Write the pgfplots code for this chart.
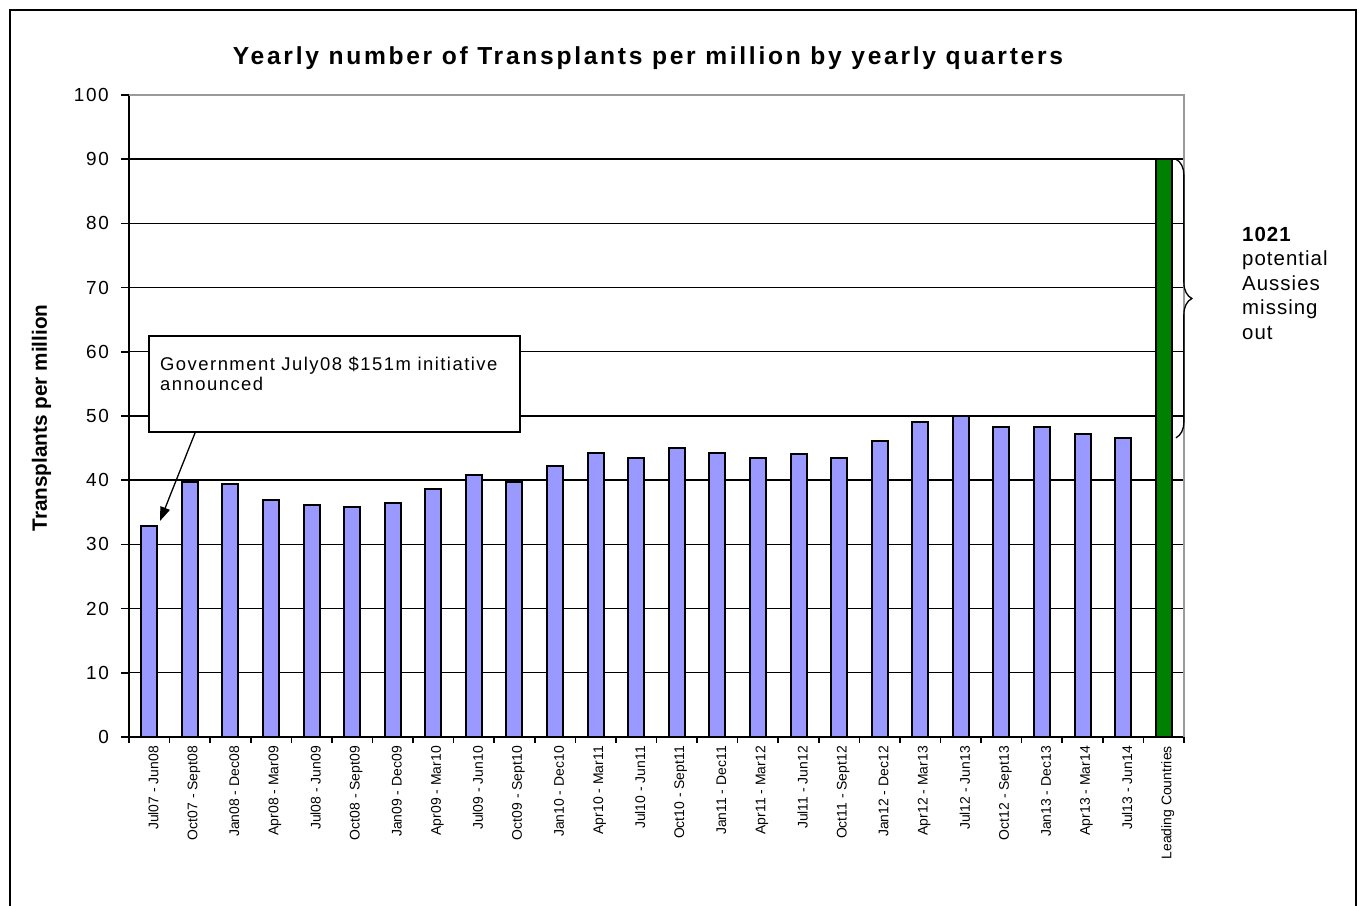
\documentclass[border=0pt]{standalone}
\usepackage{fontspec}
\setmainfont{Liberation Sans}
\newfontfamily\spacedT[LetterSpace=11]{Liberation Sans}
\newfontfamily\spacedY[LetterSpace=9]{Liberation Sans}
\newfontfamily\spacedG[LetterSpace=8]{Liberation Sans}
\newfontfamily\spacedR[LetterSpace=5]{Liberation Sans}
\usepackage{pgfplots}
\pgfplotsset{compat=1.18}
\usepackage{pgfplotstable}
\usetikzlibrary{arrows.meta,decorations.pathreplacing}
\definecolor{barblue}{HTML}{9999FF}
\definecolor{bargreen}{HTML}{008000}
\definecolor{frameg}{HTML}{9A9A9A}

\pgfplotstableread{
x y
0 32.9
1 39.7
2 39.4
3 36.9
4 36.1
5 35.8
6 36.4
7 38.6
8 40.8
9 39.7
10 42.2
11 44.3
12 43.5
13 45.0
14 44.3
15 43.5
16 44.1
17 43.5
18 46.1
19 49.0
20 50.0
21 48.3
22 48.3
23 47.2
24 46.5
}\quarters

\pgfplotstableread{
x y
25 90
}\leading

\begin{document}
\begin{tikzpicture}
\useasboundingbox (0bp,0bp) rectangle (1359bp,906bp);
\draw[line width=2.2bp] (10bp,0bp) -- (10bp,896bp) -- (1356bp,896bp) -- (1356bp,0bp);
\begin{axis}[
  at={(129bp,169bp)}, anchor=south west,
  scale only axis, width=1055bp, height=642bp,
  xmin=-0.5, xmax=25.5, ymin=0, ymax=100,
  axis x line*=bottom, axis y line*=left,
  axis line style={line width=2bp, -},
  ytick={0,10,...,100},
  ymajorgrids, major grid style={black, line width=1.4bp},
  xtick={0,...,25},
  xticklabels={Jul07 - Jun08, Oct07 - Sept08, Jan08 - Dec08, Apr08 - Mar09, Jul08 - Jun09, Oct08 - Sept09, Jan09 - Dec09, Apr09 - Mar10, Jul09 - Jun10, Oct09 - Sept10, Jan10 - Dec10, Apr10 - Mar11, Jul10 - Jun11, Oct10 - Sept11, Jan11 - Dec11, Apr11 - Mar12, Jul11 - Jun12, Oct11 - Sept12, Jan12 - Dec12, Apr12 - Mar13, Jul12 - Jun13, Oct12 - Sept13, Jan13 - Dec13, Apr13 - Mar14, Jul13 - Jun14, Leading Countries},
  minor xtick={-0.5,0.5,...,25.5},
  tick align=outside,
  major tick length=8bp, minor tick length=6bp,
  major x tick style={draw=none},
  every tick/.style={black, line width=1.6bp},
  x tick label style={xshift=4bp, rotate=90, anchor=east, font=\fontsize{14}{14}\selectfont, inner sep=1bp},
  y tick label style={xshift=-11bp, font=\spacedY\fontsize{19}{19}\selectfont, inner sep=1bp},
  /pgf/number format/assume math mode=true,
  clip=false,
]
\addplot[ybar, bar width=16bp, bar shift=0pt, fill=barblue, draw=black, line width=2bp] table[x=x,y=y]{\quarters};
\addplot[ybar, bar width=16bp, bar shift=0pt, fill=bargreen, draw=black, line width=2bp] table[x=x,y=y]{\leading};
\draw[frameg, line width=2bp] (rel axis cs:0,1) -- (rel axis cs:1,1) -- (rel axis cs:1,0);
\draw[decorate, decoration={brace, amplitude=16bp}, line width=1.3bp] (axis cs:25.3,90) -- (axis cs:25.3,46.6);
\end{axis}
% title
\node[anchor=base, font=\spacedT\bfseries\fontsize{24.7}{24.7}\selectfont] at (648bp,841bp) {Yearly number of Transplants per million by yearly quarters};
% y label
\node[rotate=90, anchor=center, font=\bfseries\fontsize{20.8}{20.8}\selectfont] at (41.5bp,488bp) {Transplants per million};
% annotation box
\draw[line width=2bp, fill=white] (149bp,474bp) rectangle (520bp,570bp);
\node[anchor=base west, inner sep=0pt, font=\spacedG\fontsize{18.5}{18.5}\selectfont] at (160bp,535bp) {Government July08 \$151m initiative};
\node[anchor=base west, inner sep=0pt, font=\spacedG\fontsize{18.5}{18.5}\selectfont] at (160bp,515bp) {announced};
\draw[line width=1.3bp, -{Triangle[length=14bp,width=10bp]}] (195bp,473bp) -- (160bp,385bp);
% right text
\node[anchor=base west, inner sep=0pt, font=\spacedR\bfseries\fontsize{20.5}{20.5}\selectfont] at (1242bp,664.5bp) {1021};
\node[anchor=base west, inner sep=0pt, font=\spacedR\fontsize{20.5}{20.5}\selectfont] at (1242bp,640bp) {potential};
\node[anchor=base west, inner sep=0pt, font=\spacedR\fontsize{20.5}{20.5}\selectfont] at (1242bp,615.5bp) {Aussies};
\node[anchor=base west, inner sep=0pt, font=\spacedR\fontsize{20.5}{20.5}\selectfont] at (1242bp,591bp) {missing};
\node[anchor=base west, inner sep=0pt, font=\spacedR\fontsize{20.5}{20.5}\selectfont] at (1242bp,566.5bp) {out};
\end{tikzpicture}
\end{document}
